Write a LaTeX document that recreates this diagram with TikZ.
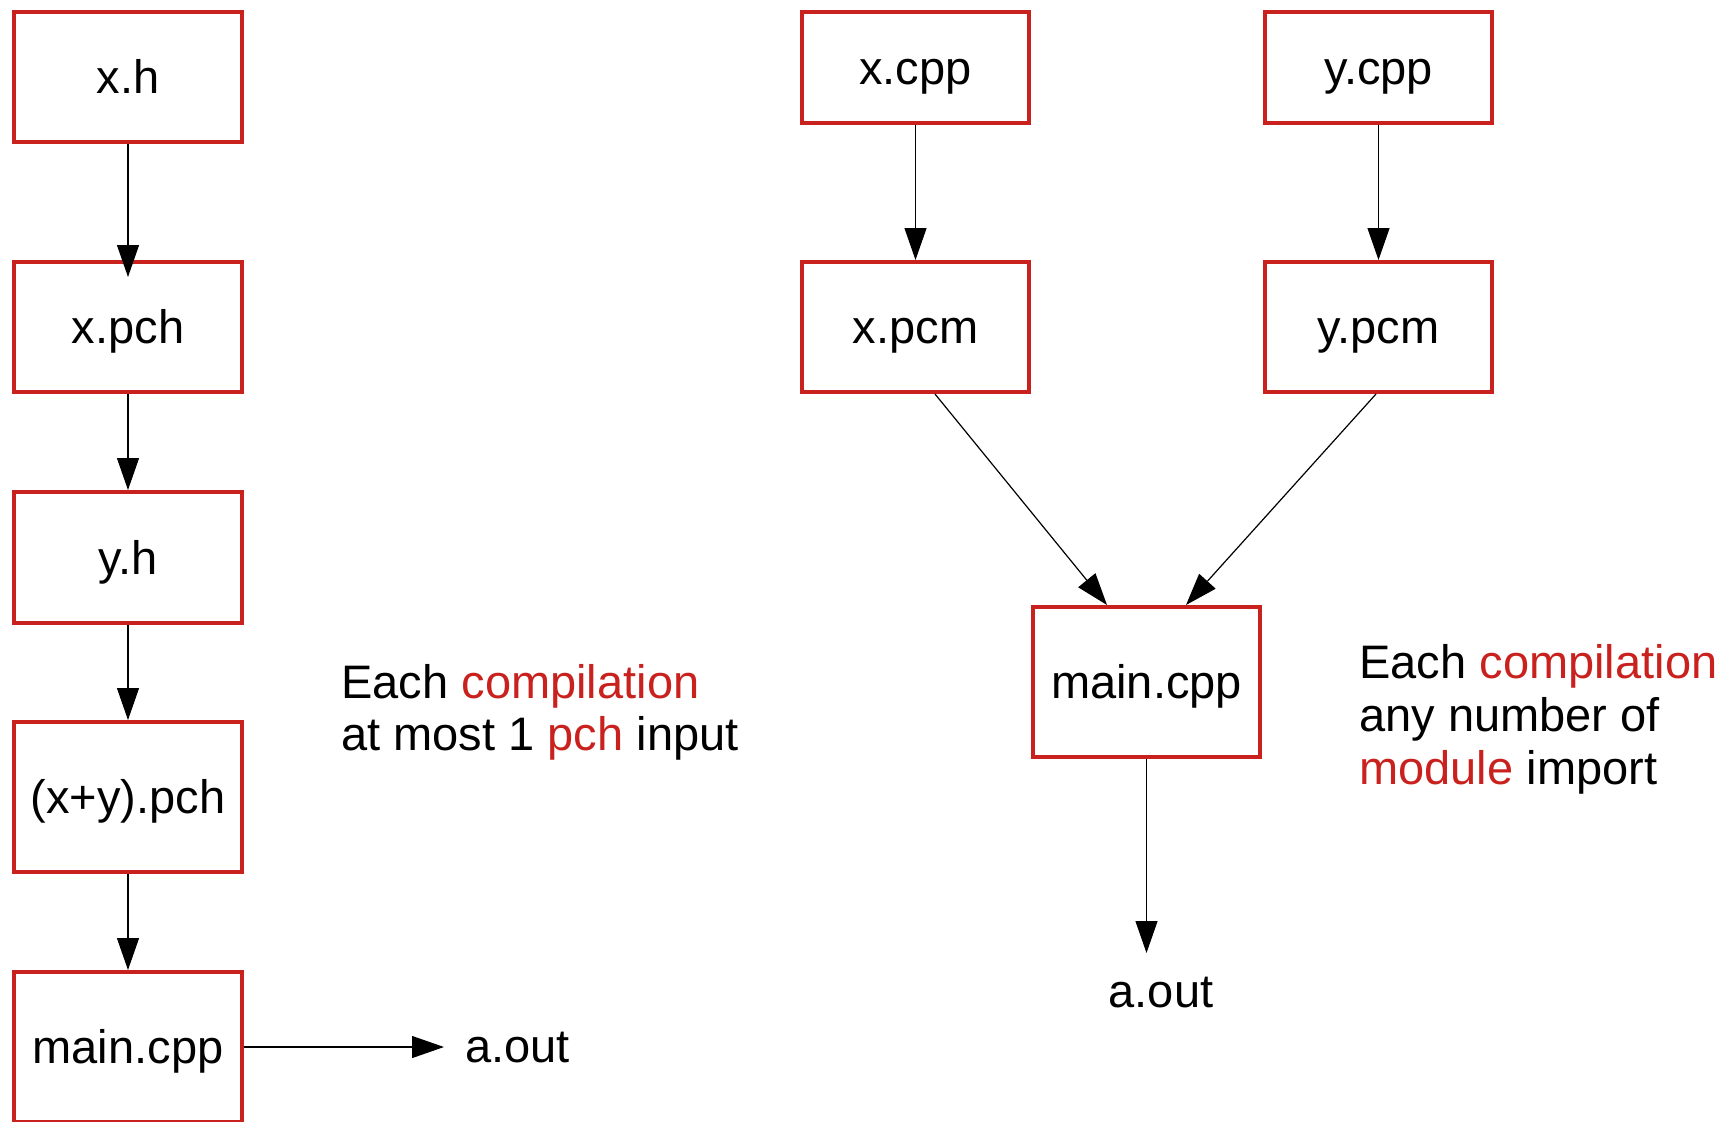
\documentclass[tikz,border=0pt]{standalone}
\usepackage{fontspec}
\setmainfont{Liberation Sans}
\usetikzlibrary{arrows.meta}
\definecolor{boxred}{RGB}{201,33,30}
\begin{document}
\begin{tikzpicture}[x=0.5pt,y=-0.5pt,
  txt/.style={font=\fontsize{23.5pt}{28pt}\selectfont, text height=16.8pt, text depth=0pt},
  box/.style={txt, draw=boxred, line width=2pt, minimum width=114pt, inner sep=0pt},
  lbl/.style={txt, inner sep=0pt},
  conn/.style={line width=0.6pt, -{Triangle[length=16pt,width=11pt]}}
]
\useasboundingbox (0,0) rectangle (1734,1121);
\clip (0,0) rectangle (1734,1121);

% left column
\node[box, minimum height=65pt] (xh) at (128,77) {x.h};
\node[box, minimum height=65pt] (xpch) at (128,327) {x.pch};
\node[box, minimum height=65.5pt] (yh) at (128,557.5) {y.h};
\node[box, minimum height=75pt] (xypch) at (128,797) {(x+y).pch};
\node[box, minimum height=75pt] (mainL) at (128,1047) {main.cpp};
\node[lbl, anchor=base west, inner xsep=10.5pt] (aoutL) at (444,1062) {a.out};

\draw[conn, shorten >=-8.5pt] (xh) -- (xpch);
\draw[conn] (xpch) -- (yh);
\draw[conn] (yh) -- (xypch);
\draw[conn] (xypch) -- (mainL);
\draw[conn] (mainL.east) -- (mainL.east -| aoutL.west);

\node[lbl, anchor=base west] (noteL1) at (341,698) {Each \textcolor{boxred}{compilation}};
\node[lbl, anchor=base west] (noteL2) at (341,750) {at most 1 \textcolor{boxred}{pch} input};

% right part
\node[box, minimum width=113.5pt, minimum height=55.5pt] (xcpp) at (915.5,67.5) {x.cpp};
\node[box, minimum width=113.5pt, minimum height=55.5pt] (ycpp) at (1378.5,67.5) {y.cpp};
\node[box, minimum width=113.5pt, minimum height=65pt] (xpcm) at (915.5,327) {x.pcm};
\node[box, minimum width=113.5pt, minimum height=65pt] (ypcm) at (1378.5,327) {y.pcm};
\node[box, minimum width=113.5pt, minimum height=75pt] (mainR) at (1146.5,682) {main.cpp};
\node[lbl, anchor=base, inner ysep=10pt] (aoutR) at (1161,1007) {a.out};

\draw[conn] (xcpp) -- (xpcm);
\draw[conn] (ycpp) -- (ypcm);
\draw[conn] ([xshift=9.75pt]xpcm.south) -- ([xshift=-19.75pt]mainR.north);
\draw[conn] ([xshift=-1.25pt]ypcm.south) -- ([xshift=19.75pt]mainR.north);
\draw[conn] (mainR.south) -- (mainR.south |- aoutR.north);

\node[lbl, anchor=base west] (noteR1) at (1359,678) {Each \textcolor{boxred}{compilation}};
\node[lbl, anchor=base west] (noteR2) at (1359,731) {any number of};
\node[lbl, anchor=base west] (noteR3) at (1359,784) {\textcolor{boxred}{module} import};
\end{tikzpicture}
\end{document}
